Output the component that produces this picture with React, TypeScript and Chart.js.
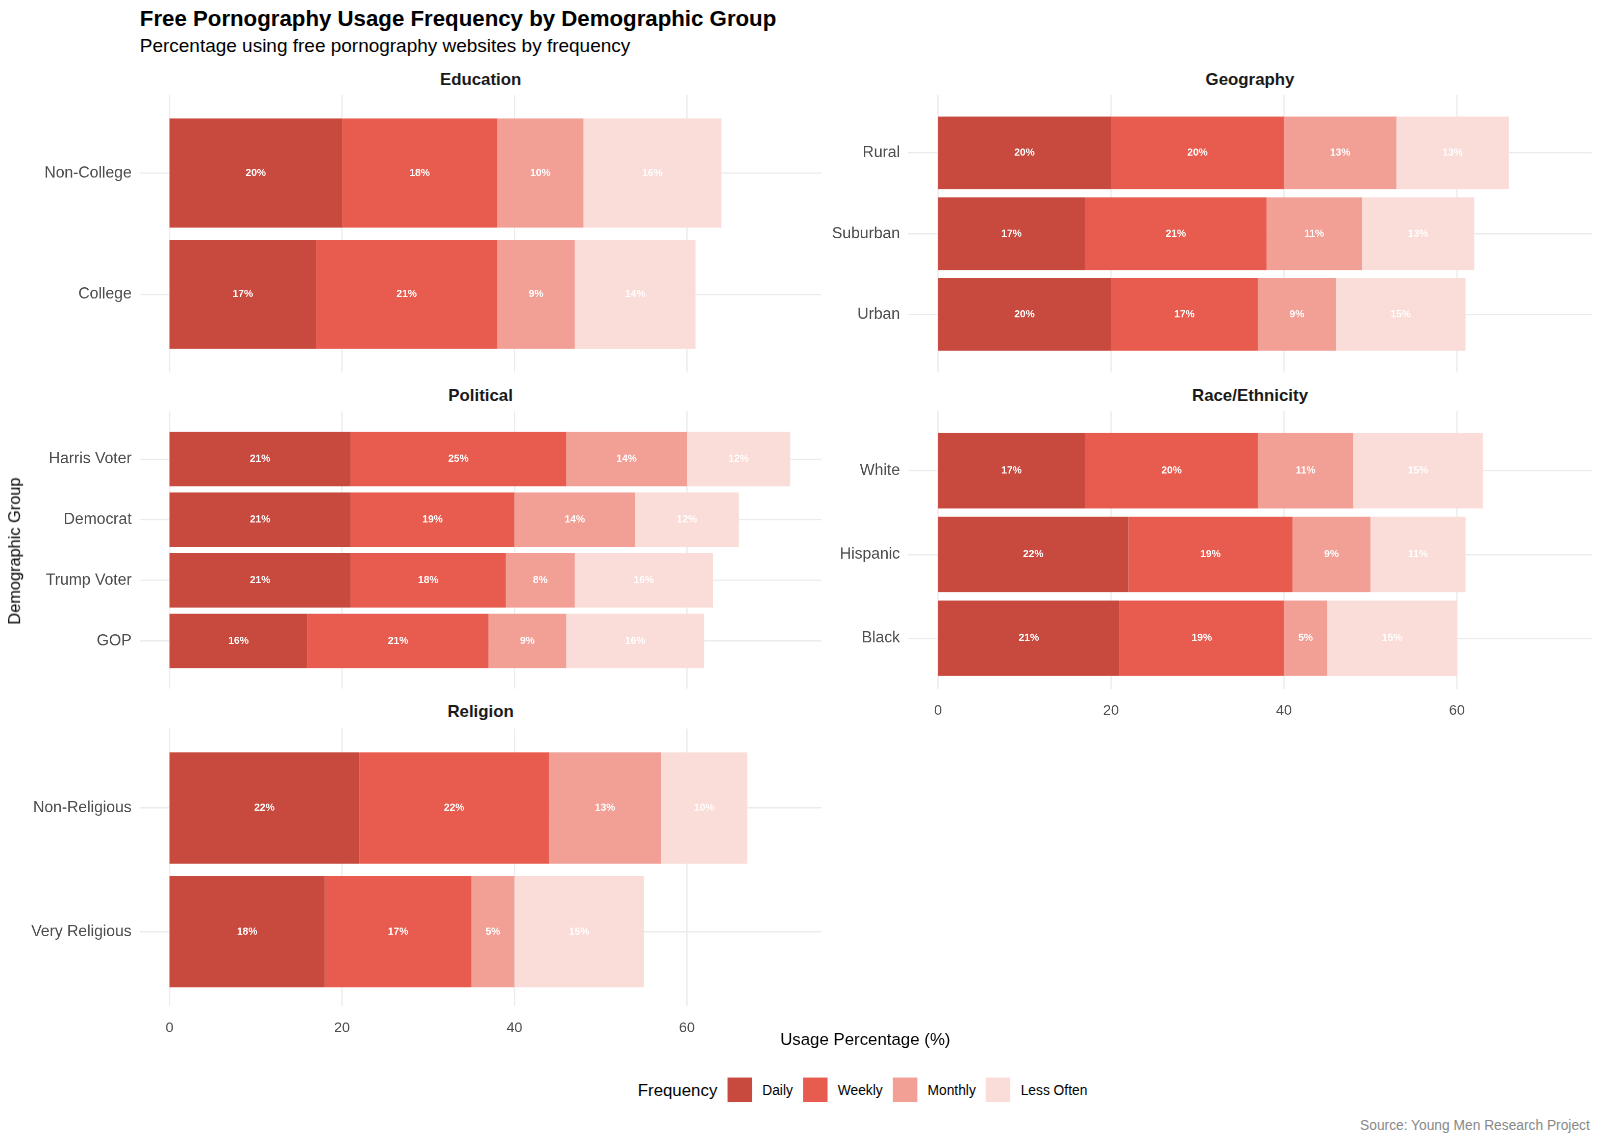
import React, { useEffect, useRef } from "react";
import { Chart, registerables } from "chart.js";
Chart.register(...registerables);

const seriesNames = ["Daily", "Weekly", "Monthly", "Less Often"];
const colors = ["#c8493d", "#e85c4f", "#f29f96", "#fadcd8"];
const xTicks = [0, 20, 40, 60];

const eduCats = ["Non-College", "College"];
const eduVals = [[20, 17], [18, 21], [10, 9], [16, 14]];
const polCats = ["Harris Voter", "Democrat", "Trump Voter", "GOP"];
const polVals = [[21, 21, 21, 16], [25, 19, 18, 21], [14, 14, 8, 9], [12, 12, 16, 16]];
const relCats = ["Non-Religious", "Very Religious"];
const relVals = [[22, 18], [22, 17], [13, 5], [10, 15]];
const geoCats = ["Rural", "Suburban", "Urban"];
const geoVals = [[20, 17, 20], [20, 21, 17], [13, 11, 9], [13, 13, 15]];
const raceCats = ["White", "Hispanic", "Black"];
const raceVals = [[17, 22, 21], [20, 19, 19], [11, 9, 5], [15, 11, 15]];

const FONT = "'Liberation Sans', Arial, sans-serif";
const SCALE = 1600 / 1568;

const labelPlugin = {
  id: "barLabels",
  afterDatasetsDraw(chart: any) {
    const ctx = chart.ctx;
    ctx.save();
    ctx.font = `bold 10px ${FONT}`;
    ctx.fillStyle = "#ffffff";
    ctx.textAlign = "center";
    ctx.textBaseline = "middle";
    chart.data.datasets.forEach((ds: any, i: number) => {
      chart.getDatasetMeta(i).data.forEach((bar: any, j: number) => {
        const x = (bar.x + bar.base) / 2;
        ctx.fillText(ds.data[j] + "%", x, bar.y);
      });
    });
    ctx.restore();
  },
};

function Panel(props: { left: number; top: number; width: number; height: number; axisW: number; cats: string[]; vals: number[][]; showX: boolean; }) {
  const ref = useRef<HTMLCanvasElement>(null);
  const n = props.cats.length;
  const u = props.height / (n + 0.2);
  const pad = 0.1 * u;
  const extra = props.showX ? 26 : 0;
  useEffect(() => {
    const vgrid = {
      id: "vgrid",
      beforeDatasetsDraw(chart: any) {
        const ctx = chart.ctx;
        const xs = chart.scales.x;
        ctx.save();
        ctx.strokeStyle = "#ebebeb";
        ctx.lineWidth = 1.2;
        xTicks.forEach((v) => {
          const px = xs.getPixelForValue(v);
          ctx.beginPath();
          ctx.moveTo(px, 0);
          ctx.lineTo(px, props.height);
          ctx.stroke();
        });
        ctx.restore();
      },
    };
    const chart = new Chart(ref.current!, {
      type: "bar",
      data: {
        labels: props.cats,
        datasets: props.vals.map((v, i) => ({
          label: seriesNames[i],
          data: v,
          backgroundColor: colors[i],
          borderWidth: 0,
          categoryPercentage: 1,
          barPercentage: 0.9,
        })),
      },
      options: {
        indexAxis: "y",
        animation: false,
        responsive: false,
        devicePixelRatio: 2,
        layout: { padding: { top: pad, bottom: 0, left: 0, right: 0 } },
        plugins: { legend: { display: false }, tooltip: { enabled: false } },
        scales: {
          x: {
            stacked: true,
            min: -3.45,
            max: 75.6,
            afterBuildTicks: (s: any) => { s.ticks = xTicks.map((v) => ({ value: v })); },
            afterFit: (s: any) => { s.height = pad + extra; },
            ticks: { display: props.showX, color: "#4d4d4d", font: { family: FONT, size: 14 }, padding: 5 + pad },
            grid: { display: false },
            border: { display: false },
          },
          y: {
            stacked: true,
            afterFit: (s: any) => { s.width = props.axisW; },
            ticks: { color: "#4d4d4d", font: { family: FONT, size: 15.4 }, padding: 8 },
            grid: { color: "#ebebeb", lineWidth: 1.2, offset: false, drawTicks: false },
            border: { display: false },
          },
        },
      },
      plugins: [vgrid, labelPlugin],
    } as any);
    return () => chart.destroy();
  }, []);
  return (
    <canvas ref={ref} width={props.width} height={props.height + extra}
      style={{ position: "absolute", left: props.left, top: props.top, width: props.width, height: props.height + extra }} />
  );
}

const Strip = (p: { x: number; y: number; t: string }) => (
  <div style={{ position: "absolute", left: p.x - 150, width: 300, top: p.y, textAlign: "center", fontWeight: "bold", fontSize: 16.5, color: "#1a1a1a" }}>{p.t}</div>
);

export default function App() {
  const L = 20, LW = 785, LA = 117;
  const R = 810, RW = 750, RA = 80;
  const H = 272;
  return (
    <div style={{ position: "fixed", left: 0, top: 0, width: 1568, height: 1120, background: "#fff", fontFamily: FONT, color: "#000", transform: `scale(${SCALE})`, transformOrigin: "0 0" }}>
      <div style={{ position: "absolute", left: 137, top: 5, fontWeight: "bold", fontSize: 21.8 }}>Free Pornography Usage Frequency by Demographic Group</div>
      <div style={{ position: "absolute", left: 137, top: 34, fontSize: 18.6 }}>Percentage using free pornography websites by frequency</div>
      <Strip x={471} y={68} t="Education" />
      <Strip x={471} y={378} t="Political" />
      <Strip x={471} y={688} t="Religion" />
      <Strip x={1225} y={68} t="Geography" />
      <Strip x={1225} y={378} t="Race/Ethnicity" />
      <Panel left={L} top={93} width={LW} height={H} axisW={LA} cats={eduCats} vals={eduVals} showX={false} />
      <Panel left={L} top={403} width={LW} height={H} axisW={LA} cats={polCats} vals={polVals} showX={false} />
      <Panel left={L} top={714} width={LW} height={H} axisW={LA} cats={relCats} vals={relVals} showX={true} />
      <Panel left={R} top={93} width={RW} height={H} axisW={RA} cats={geoCats} vals={geoVals} showX={false} />
      <Panel left={R} top={403} width={RW} height={H} axisW={RA} cats={raceCats} vals={raceVals} showX={true} />
      <div style={{ position: "absolute", left: 15, top: 540, width: 0, height: 0 }}>
        <div style={{ position: "absolute", left: -80, top: -10, width: 160, height: 20, lineHeight: "20px", transform: "rotate(-90deg)", transformOrigin: "center", textAlign: "center", fontSize: 16, whiteSpace: "nowrap" }}>Demographic Group</div>
      </div>
      <div style={{ position: "absolute", left: 648, width: 400, top: 1009, textAlign: "center", fontSize: 16.5 }}>Usage Percentage (%)</div>
      <div style={{ position: "absolute", left: 625, top: 1056, display: "flex", alignItems: "center", fontSize: 13.5 }}>
        <span style={{ fontSize: 16.5, marginRight: 10 }}>Frequency</span>
        {seriesNames.map((n, i) => (
          <span key={n} style={{ display: "flex", alignItems: "center", marginRight: 10 }}>
            <span style={{ display: "inline-block", width: 24, height: 24, background: colors[i], marginRight: 10 }} />
            {n}
          </span>
        ))}
      </div>
      <div style={{ position: "absolute", right: 10, top: 1095, fontSize: 13.5, color: "#888" }}>Source: Young Men Research Project</div>
    </div>
  );
}
